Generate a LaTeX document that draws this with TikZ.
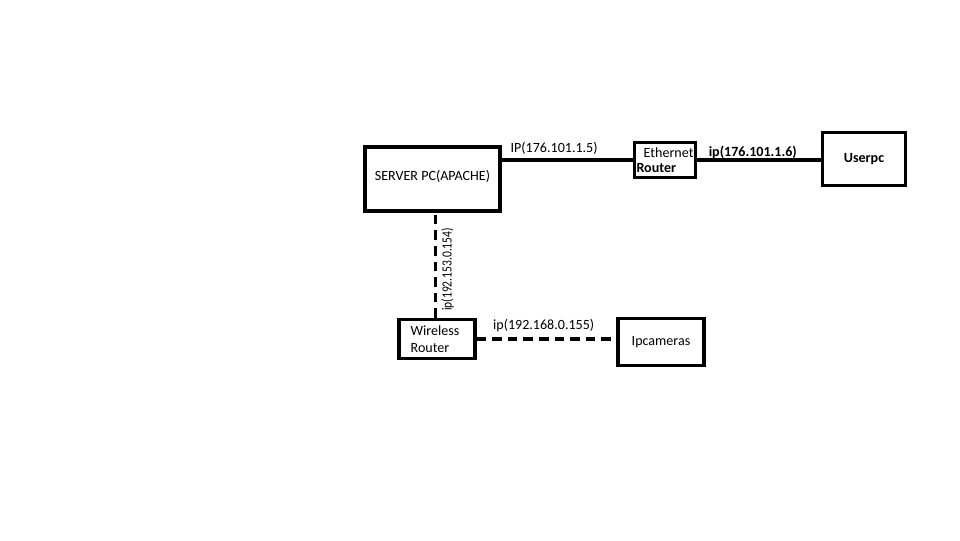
\documentclass[tikz,border=0pt]{standalone}
\usepackage{fontspec}
\setmainfont{Carlito}
\begin{document}
\begin{tikzpicture}[
    x=0.025cm, y=-0.025cm,
    font=\fontsize{10pt}{12pt}\selectfont,
    % Styles
    device_box/.style={draw, line width=2.2pt, inner sep=0pt, align=center},
    wired_link/.style={line width=2.2pt},
    wired_link_thick/.style={line width=2.9pt},
    wireless_link/.style={line width=2.2pt, dash pattern=on 0.24cm off 0.15cm},
    ip_label/.style={inner sep=1pt}
]
    \useasboundingbox (0,0) rectangle (960,540);

    % ==========================================
    % 1. DEVICES
    % ==========================================
    \node[device_box, minimum width=3.375cm, minimum height=1.6cm] (server) at (432.5,179)
        {\raisebox{0.2cm}{SERVER PC(APACHE)}};
    \node[device_box, minimum width=1.525cm, minimum height=0.875cm, align=left] (ethrouter) at (665,160)
        {\hspace*{0.18cm}Ethernet\\[-1pt]\textbf{Router}};
    \node[device_box, minimum width=2.075cm, minimum height=1.325cm] (userpc) at (864,159)
        {\raisebox{-0.12cm}{\textbf{Userpc}}};
    \node[device_box, minimum width=1.9cm, minimum height=0.975cm, align=left] (wrouter) at (437,339)
        {\hspace*{-0.1cm}Wireless\\\hspace*{-0.1cm}Router};
    \node[device_box, minimum width=2.15cm, minimum height=1.175cm] (ipcam) at (661,342)
        {Ipcameras};

    % ==========================================
    % 2. LINKS
    % ==========================================
    % wired
    \draw[wired_link] (server.east |- ethrouter.west) -- node[ip_label, pos=0.4, above=2pt] (ip1) {IP(176.101.1.5)} (ethrouter.west);
    \draw[wired_link_thick] (ethrouter.east) -- node[ip_label, pos=0.45, above=-1.5pt] (ip2) {\textbf{ip(176.101.1.6)}} (userpc.west |- ethrouter.east);

    % wireless
    \draw[wireless_link] ([xshift=0.075cm]wrouter.north -| server.south) -- node[ip_label, pos=0.46, rotate=90, anchor=north, yshift=-2pt] (ip3) {\scalebox{0.82}[1]{ip(192.153.0.154)}} ([xshift=0.075cm]server.south);
    \draw[wireless_link] (wrouter.east) -- node[ip_label, pos=0.48, above=3pt] (ip4) {ip(192.168.0.155)} (ipcam.west |- wrouter.east);

\end{tikzpicture}
\end{document}
